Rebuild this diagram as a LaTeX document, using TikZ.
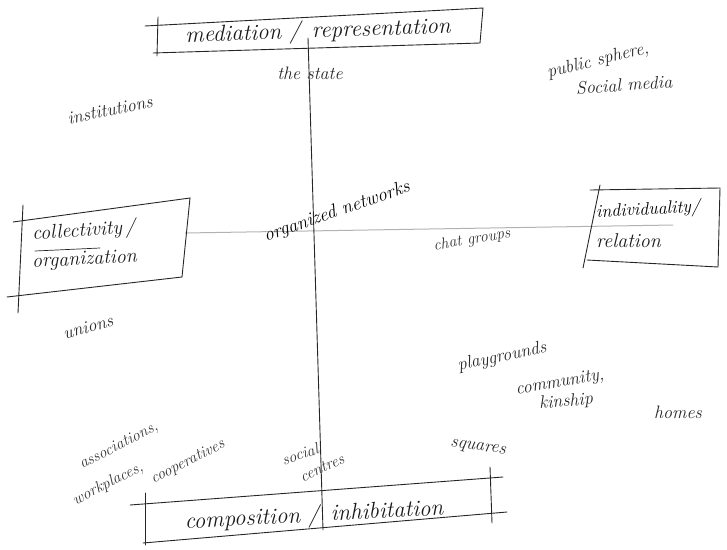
\documentclass[tikz,border=0pt]{standalone}
\usepackage{fontspec}
\begin{document}
\begin{tikzpicture}[x=1pt,y=-1pt,
  hand/.style={font=\itshape\fontsize{18}{20}\selectfont, inner sep=0pt, text=black!85},
  big/.style={font=\itshape\fontsize{23}{26}\selectfont, inner sep=0pt, text=black!90},
  mid/.style={font=\itshape\fontsize{20}{23}\selectfont, inner sep=0pt, text=black!90},
  small/.style={font=\itshape\fontsize{16}{18}\selectfont, inner sep=0pt, text=black!80},
  ink/.style={line width=0.9pt, draw=black!85, line cap=round},
  axisline/.style={line width=1pt, draw=black!30}]
\useasboundingbox (0,0) rectangle (727,549);

% axis endpoints
\coordinate (vtop) at (308,38);
\coordinate (vbot) at (323,530);
\coordinate (hleft) at (185,233);
\coordinate (hright) at (673,225);

% horizontal axis
\draw[axisline] (hleft) -- (hright);
% vertical axis
\draw[ink] (vtop) -- (vbot);

% top box
\draw[ink] (145,26) -- (483,8) -- (480,43) -- (153,53);
\draw[ink] (158,17) -- (157,56);
\node[big, rotate=2] (top) at (318,32) {mediation\,\,/\,\,\,representation};

% left box
\draw[ink] (13,222) -- (190,198) -- (182,277) -- (7,297);
\draw[ink] (23,205) -- (18,313);
\draw[ink, line width=0.7pt] (35,251) -- (100,248);
\node[mid, anchor=west, rotate=4] (left1) at (32,235) {collectivity\,/};
\node[mid, anchor=west, rotate=3] (left2) at (32,263) {organization};

% right box
\draw[ink] (590,190) -- (720,188) -- (718,267) -- (587,260);
\draw[ink] (600,185) -- (583,268);
\node[font=\itshape\fontsize{18}{20}\selectfont, inner sep=0pt, anchor=west, rotate=3] (right1) at (596,213) {individuality/};
\node[mid, anchor=west] (right2) at (596,241) {relation};

% bottom box
\draw[ink] (130,505) -- (503,477);
\draw[ink] (143,543) -- (507,512);
\draw[ink] (145,493) -- (145,545);
\draw[ink] (490,467) -- (492,523);
\node[big, rotate=3] (bottom) at (314,516) {composition\,\,/\,\,\,inhibitation};

% labels
\node[hand] (state) at (310,73) {the state};
\node[hand, rotate=12] (inst) at (110,110) {institutions};
\node[hand, rotate=14] (pub1) at (598,61) {public sphere,};
\node[hand, rotate=4] (pub2) at (624,85) {Social media};
\node[font=\itshape\fontsize{19}{21}\selectfont, inner sep=0pt, rotate=19] (orgnet) at (337,212) {organized networks};
\node[small, rotate=10] (chat) at (472,240) {chat groups};
\node[hand, rotate=15] (unions) at (88,327) {unions};
\node[hand, rotate=12] (play) at (502,357) {playgrounds};
\node[hand, rotate=10] (comm) at (560,383) {community,};
\node[hand, rotate=5] (kin) at (566,402) {kinship};
\node[hand] (homes) at (678,412) {homes};
\node[hand, rotate=-8] (squares) at (478,448) {squares};
\node[small, rotate=27] (assoc) at (119,446) {associations,};
\node[small, rotate=27] (work) at (108,484) {workplaces,};
\node[small, rotate=27] (coop) at (188,462) {cooperatives};
\node[small, rotate=18] (social) at (300,454) {social};
\node[small, rotate=25] (centres) at (322,468) {centres};
\end{tikzpicture}
\end{document}
